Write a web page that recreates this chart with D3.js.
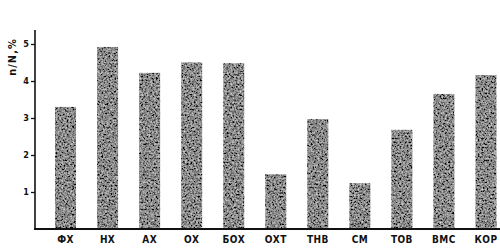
<!DOCTYPE html>
<html>
<head>
<meta charset="utf-8">
<script src="https://cdn.jsdelivr.net/npm/d3@7"></script>
<style>
  body { margin: 0; background: #fff; }
  svg { display: block; }
  text { font-family: "DejaVu Sans Condensed", "DejaVu Sans", sans-serif; font-weight: bold; fill: #111; }
</style>
</head>
<body>
<svg id="chart" width="500" height="249"></svg>
<script>
// categories and values
var categories = ["ФХ", "НХ", "АХ", "ОХ", "БОХ", "ОХТ", "ТНВ", "СМ", "ТОВ", "ВМС", "КОР"];
var values = [3.30, 4.92, 4.22, 4.50, 4.48, 1.48, 2.97, 1.24, 2.68, 3.65, 4.16];
var yTicks = [1, 2, 3, 4, 5];
var yLabel = "n/N,%";

var svg = d3.select("#chart");

// grainy print texture for the bars
var defs = svg.append("defs");
var f = defs.append("filter").attr("id", "grain")
  .attr("x", 0).attr("y", 0).attr("width", 1).attr("height", 1);
f.append("feTurbulence").attr("type", "fractalNoise")
  .attr("baseFrequency", 0.55).attr("numOctaves", 3).attr("seed", 7).attr("result", "n");
f.append("feColorMatrix").attr("in", "n").attr("type", "matrix")
  .attr("values", "1.1 0 0 0 -0.3  1.1 0 0 0 -0.3  1.1 0 0 0 -0.3  0 0 0 0 1")
  .attr("result", "g");
f.append("feComposite").attr("in", "g").attr("in2", "SourceGraphic").attr("operator", "in");

var x = d3.scaleBand().domain(categories).range([34, 517.5]).paddingInner(0.5).paddingOuter(0.5);
var y = d3.scaleLinear().domain([0, 5]).range([229, 44]);

// bars
svg.append("g").selectAll("rect")
  .data(values)
  .enter()
  .append("rect")
  .attr("x", function(d, i) { return x(categories[i]); })
  .attr("width", x.bandwidth())
  .attr("y", function(d) { return y(d); })
  .attr("height", function(d) { return y(0) - y(d); })
  .style("fill", "#5a5a5a")
  .attr("filter", "url(#grain)");

// y axis
var yAxis = svg.append("g").attr("transform", "translate(35,0)")
  .call(d3.axisLeft(y).tickValues(yTicks).tickSize(4).tickPadding(2).tickFormat(d3.format("d")));
yAxis.select(".domain").remove();
yAxis.selectAll(".tick line").attr("stroke", "#111").attr("stroke-width", 1.3);
yAxis.selectAll(".tick text").attr("font-size", 9).style("font-family", "\"DejaVu Sans Condensed\", sans-serif");
yAxis.append("line")
  .attr("x1", 0).attr("x2", 0).attr("y1", 30).attr("y2", y(0))
  .attr("stroke", "#111").attr("stroke-width", 1.6);

// x axis
var xAxis = svg.append("g").attr("transform", "translate(0," + y(0) + ")")
  .call(d3.axisBottom(x).tickSize(0).tickPadding(7));
xAxis.select(".domain").remove();
xAxis.selectAll(".tick text").attr("font-size", 10).attr("letter-spacing", 0.4)
  .style("font-family", "\"DejaVu Sans Condensed\", sans-serif");
xAxis.append("line")
  .attr("x1", 34).attr("x2", 500).attr("y1", 0).attr("y2", 0)
  .attr("stroke", "#111").attr("stroke-width", 2);

// y axis title
svg.append("text")
  .attr("transform", "translate(16,57) rotate(-90)")
  .attr("text-anchor", "middle")
  .attr("font-size", 11)
  .attr("letter-spacing", 1)
  .text(yLabel);
</script>
</body>
</html>
